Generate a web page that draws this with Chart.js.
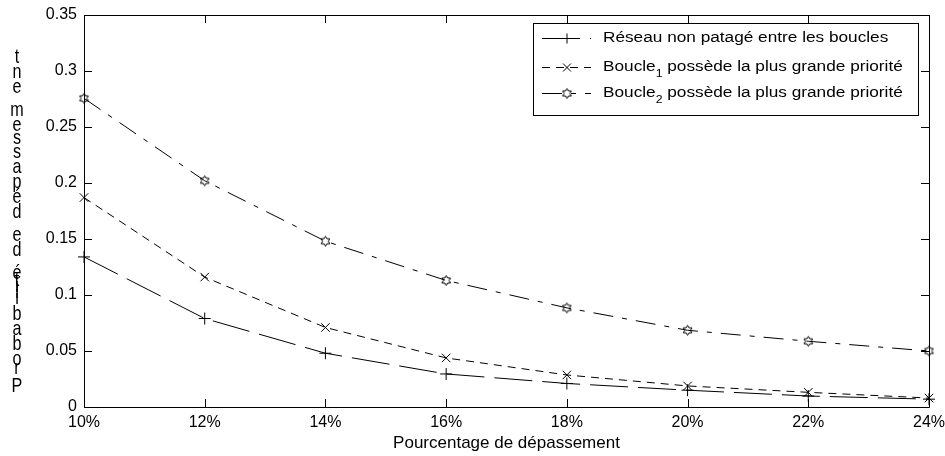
<!DOCTYPE html>
<html lang="fr">
<head>
  <meta charset="UTF-8">
  <title>Probabilité de dépassement</title>
  <style>
    html, body { margin: 0; padding: 0; background: #fff; }
    #wrap { width: 945px; height: 456px; }
  </style>
</head>
<body>
  <div id="wrap"><canvas id="myChart" width="945" height="456"></canvas></div>
  <script src="https://cdn.jsdelivr.net/npm/chart.js@4.4.0/dist/chart.umd.min.js"></script>
  <script>
    // data
    const categories = ['10%', '12%', '14%', '16%', '18%', '20%', '22%', '24%'];
    const reseauNonPartage = [0.134, 0.079, 0.048, 0.0295, 0.021, 0.015, 0.0098, 0.007];
    const boucle1Prioritaire = [0.187, 0.116, 0.071, 0.0438, 0.0286, 0.0188, 0.0131, 0.008];
    const boucle2Prioritaire = [0.2756, 0.202, 0.148, 0.113, 0.0885, 0.0685, 0.0587, 0.050];
    const seriesLabels = [
      'Réseau non patagé entre les boucles',
      'Boucle₁ possède la plus grande priorité',
      'Boucle₂ possède la plus grande priorité'
    ];
    const xTitle = 'Pourcentage de dépassement';
    const yTitle = 'Probabilité de dépassement';

    const FONT = '"Liberation Sans", Arial, Helvetica, sans-serif';

    // hexagram marker
    function hexagram() {
      const c = document.createElement('canvas');
      c.width = 13; c.height = 13;
      const g = c.getContext('2d');
      g.strokeStyle = '#000';
      g.lineWidth = 1;
      g.beginPath();
      for (let k = 0; k < 12; k++) {
        const r = k % 2 === 0 ? 5 : 2.9;
        const a = -Math.PI / 2 + k * Math.PI / 6;
        const x = 6.5 + r * Math.cos(a), y = 6.5 + r * Math.sin(a);
        if (k === 0) g.moveTo(x, y); else g.lineTo(x, y);
      }
      g.closePath();
      g.stroke();
      return c;
    }
    const hexMarker = hexagram();

    // box + inward ticks like matlab
    const boxPlugin = {
      id: 'box',
      afterDatasetsDraw(chart) {
        const ctx = chart.ctx;
        const a = chart.chartArea;
        const xs = chart.scales.x, ys = chart.scales.y;
        ctx.save();
        ctx.strokeStyle = '#000';
        ctx.lineWidth = 1;
        ctx.beginPath();
        ctx.rect(Math.round(a.left) + 0.5, Math.round(a.top) + 0.5,
                 Math.round(a.right - a.left), Math.round(a.bottom - a.top));
        ctx.stroke();
        ctx.beginPath();
        xs.ticks.forEach((t, i) => {
          const px = Math.round(xs.getPixelForTick(i)) + 0.5;
          ctx.moveTo(px, a.bottom); ctx.lineTo(px, a.bottom - 8);
          ctx.moveTo(px, a.top); ctx.lineTo(px, a.top + 8);
        });
        ys.ticks.forEach((t, i) => {
          const py = Math.round(ys.getPixelForTick(i)) + 0.5;
          ctx.moveTo(a.left, py); ctx.lineTo(a.left + 8, py);
          ctx.moveTo(a.right, py); ctx.lineTo(a.right - 8, py);
        });
        ctx.stroke();
        ctx.restore();
      },
      afterDraw(chart) {
        const ctx = chart.ctx;
        const a = chart.chartArea;
        ctx.save();
        // y title: glyphs stacked bottom to top
        ctx.font = '17px ' + FONT;
        ctx.fillStyle = '#000';
        ctx.textAlign = 'center';
        ctx.textBaseline = 'alphabetic';
        const chars = yTitle.split('');
        const widths = chars.map(ch => ctx.measureText(ch).width);
        const total = widths.slice(0, -1).reduce((s, w) => s + w, 0);
        const yBottom = 392, yTop = 63;
        const k = (yBottom - yTop) / total;
        let cum = 0;
        chars.forEach((ch, i) => {
          const y = yBottom - cum * k;
          ctx.save();
          ctx.translate(17, y);
          ctx.scale(0.95, 1.15);
          ctx.fillText(ch, 0, 0);
          ctx.restore();
          cum += widths[i];
        });

        // legend
        const bw = 385, bh = 92;
        const bx = a.right - 11 - bw, by = a.top + 8;
        ctx.fillStyle = '#fff';
        ctx.fillRect(bx, by, bw, bh);
        ctx.strokeStyle = '#000';
        ctx.lineWidth = 1;
        ctx.strokeRect(Math.round(bx) + 0.5, Math.round(by) + 0.5, bw, bh);
        const rows = [15, 44, 70];
        const sx = 1.23;
        chart.data.datasets.forEach((ds, i) => {
          const ry = Math.round(by + rows[i]) + 0.5;
          ctx.save();
          ctx.strokeStyle = '#000';
          ctx.setLineDash(ds.borderDash || []);
          ctx.beginPath();
          ctx.moveTo(bx + 9, ry); ctx.lineTo(bx + 58, ry);
          ctx.stroke();
          ctx.restore();
          const mx = bx + 34;
          ctx.beginPath();
          if (ds.pointStyle === 'cross') {
            ctx.moveTo(mx - 5, ry); ctx.lineTo(mx + 5, ry);
            ctx.moveTo(mx, ry - 5); ctx.lineTo(mx, ry + 5);
            ctx.stroke();
          } else if (ds.pointStyle === 'crossRot') {
            ctx.moveTo(mx - 4, ry - 4); ctx.lineTo(mx + 4, ry + 4);
            ctx.moveTo(mx - 4, ry + 4); ctx.lineTo(mx + 4, ry - 4);
            ctx.stroke();
          } else {
            ctx.drawImage(hexMarker, mx - 6.5, ry - 6.5);
          }
          // label with subscripts
          let tx = bx + 70;
          ctx.fillStyle = '#000';
          ctx.textAlign = 'left';
          ctx.textBaseline = 'middle';
          for (const ch of ds.label) {
            const sub = '₀₁₂₃₄₅₆₇₈₉'.indexOf(ch);
            const txt = sub >= 0 ? String(sub) : ch;
            ctx.font = (sub >= 0 ? '10px ' : '14px ') + FONT;
            ctx.save();
            ctx.translate(tx, sub >= 0 ? ry + 7 : ry);
            ctx.scale(sx, 1);
            ctx.fillText(txt, 0, 0);
            ctx.restore();
            tx += ctx.measureText(txt).width * sx;
          }
        });
        ctx.restore();
      }
    };

    const ctx = document.getElementById('myChart').getContext('2d');
    const myChart = new Chart(ctx, {
      type: 'line',
      data: {
        labels: categories,
        datasets: [{
          label: seriesLabels[0],
          data: reseauNonPartage,
          borderColor: '#000',
          borderWidth: 1,
          borderDash: [38, 10],
          pointStyle: 'cross',
          pointRadius: 6,
          pointBorderColor: '#000',
          pointBorderWidth: 1
        }, {
          label: seriesLabels[1],
          data: boucle1Prioritaire,
          borderColor: '#000',
          borderWidth: 1,
          borderDash: [8, 6],
          pointStyle: 'crossRot',
          pointRadius: 6,
          pointBorderColor: '#000',
          pointBorderWidth: 1
        }, {
          label: seriesLabels[2],
          data: boucle2Prioritaire,
          borderColor: '#000',
          borderWidth: 1,
          borderDash: [20, 9, 5, 9],
          pointStyle: hexMarker,
          pointRadius: 6
        }]
      },
      options: {
        responsive: false,
        animation: false,
        events: [],
        layout: { padding: { left: 0, right: 16, top: 15, bottom: 0 } },
        plugins: {
          legend: { display: false },
          tooltip: { enabled: false }
        },
        scales: {
          x: {
            offset: false,
            grid: { display: false, drawTicks: false },
            border: { display: false },
            ticks: {
              color: '#000',
              font: { family: FONT, size: 16 },
              padding: 6,
              maxRotation: 0,
              autoSkip: false
            },
            title: {
              display: true,
              text: xTitle,
              color: '#000',
              font: { family: FONT, size: 17 },
              padding: { top: 0, bottom: 2 }
            },
            afterFit(s) {
              s.height = 49;
              s.paddingLeft = 0;
              s.paddingRight = 0;
            }
          },
          y: {
            min: 0,
            max: 0.35,
            grid: { display: false, drawTicks: false },
            border: { display: false },
            ticks: {
              stepSize: 0.05,
              color: '#000',
              font: { family: FONT, size: 16 },
              padding: 7,
              callback: v => String(Number(v.toFixed(2)))
            },
            afterFit(s) {
              s.width = 84;
              s.paddingTop = 0;
              s.paddingBottom = 0;
            }
          }
        }
      },
      plugins: [boxPlugin]
    });
  </script>
</body>
</html>
